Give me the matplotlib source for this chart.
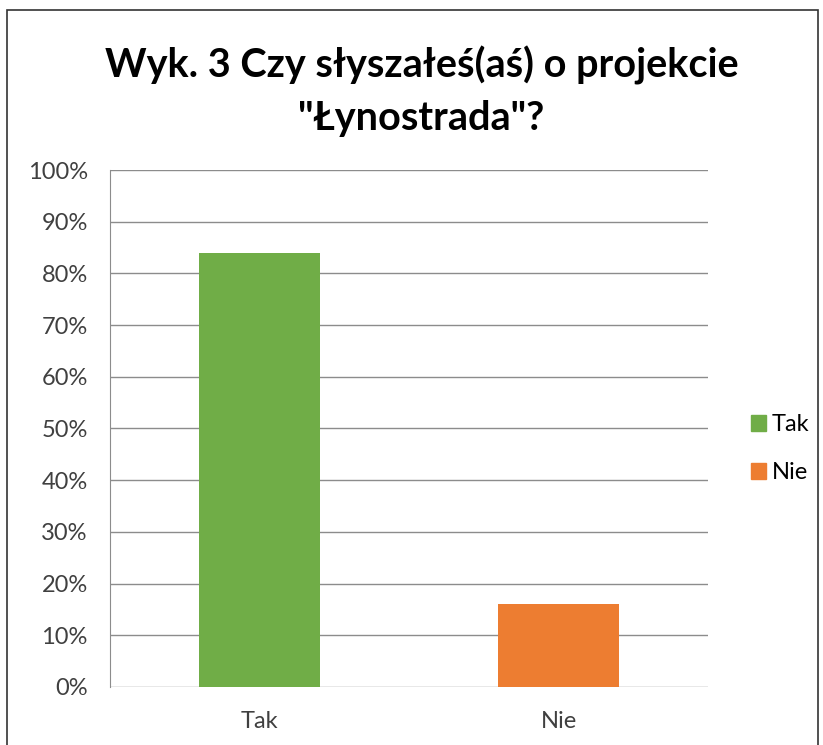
import matplotlib.pyplot as plt
from matplotlib.patches import Rectangle, Patch
from matplotlib.ticker import PercentFormatter

categories = ["Tak", "Nie"]
values = [84, 16]
colors = ["#70AD47", "#ED7D31"]
title = 'Wyk. 3 Czy słyszałeś(aś) o projekcie\n"Łynostrada"?'

plt.rcParams["font.family"] = ["Lato", "DejaVu Sans"]

fig = plt.figure(figsize=(8.23, 7.45), dpi=100)
ax = fig.add_axes([0.1337, 0.0779, 0.7266, 0.6939])

x = range(len(categories))
ax.bar(x, values, width=0.405, color=colors, zorder=3)

ax.set_xlim(-0.5, len(categories) - 0.5)
ax.set_ylim(0, 100)
ax.set_yticks(range(0, 101, 10))
ax.yaxis.set_major_formatter(PercentFormatter(decimals=0))
ax.set_xticks(list(x))
ax.set_xticklabels(categories)
ax.tick_params(axis="both", length=0, labelsize=17, colors="#404040")
ax.tick_params(axis="y", pad=16)
ax.tick_params(axis="x", pad=17)
ax.grid(axis="y", color="#8c8c8c", linewidth=1, zorder=0)

for side in ["top", "right", "bottom"]:
    ax.spines[side].set_visible(False)
ax.spines["left"].set_color("#8c8c8c")

fig.text(0.512, 0.877, title, ha="center", va="center", fontsize=28.5,
         fontweight="bold", linespacing=1.5, color="black")

handles = [Patch(color=c, label=l) for c, l in zip(colors, categories)]
fig.legend(handles=handles, loc="center left", bbox_to_anchor=(0.898, 0.398),
           frameon=False, fontsize=17, handlelength=0.65, handleheight=0.65,
           handletextpad=0.25, labelspacing=1.15, borderpad=0)

fig.patches.append(Rectangle((0.009, -0.01), 0.985, 0.996, transform=fig.transFigure,
                             fill=False, edgecolor="#333333", linewidth=1.2))

fig.savefig("out.png", dpi=100)
